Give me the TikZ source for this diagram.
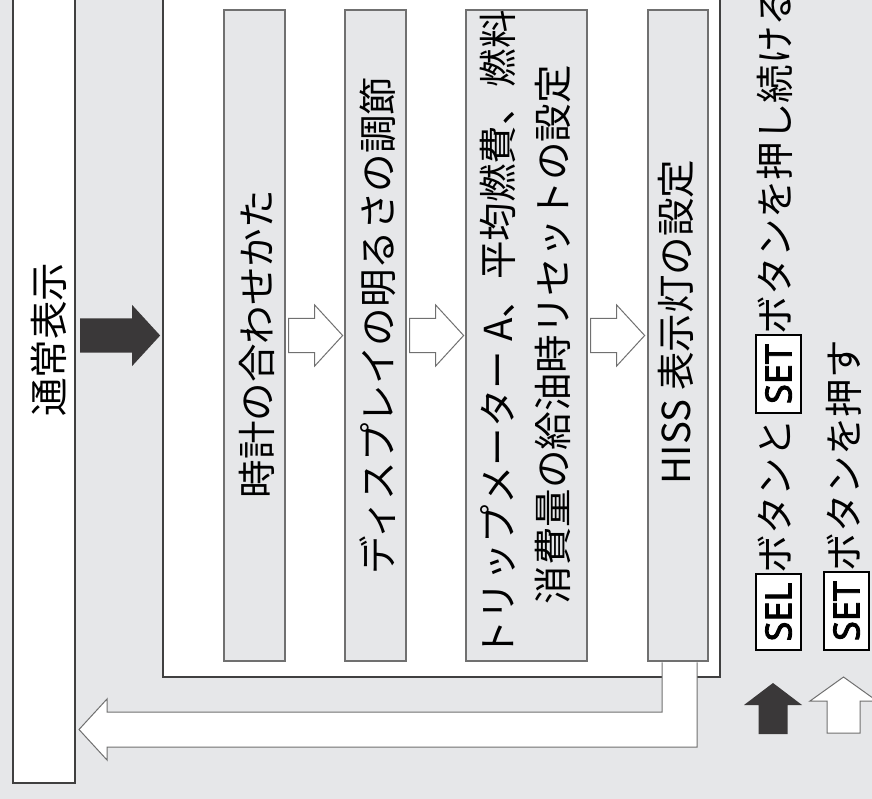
\documentclass[tikz,border=0pt]{standalone}
\usepackage{fontspec}
\setmainfont{Noto Sans CJK JP}
\newfontfamily\btnfont{Noto Sans}[AutoFakeBold=2.5]
\usetikzlibrary{calc}
\definecolor{bggray}{RGB}{230,231,233}
\definecolor{edgedark}{RGB}{64,64,64}
\definecolor{edgegray}{RGB}{112,112,112}
\definecolor{arrowdark}{RGB}{58,56,57}
\tikzset{
  outerbox/.style={draw=edgedark,line width=2.3pt,fill=white,inner sep=0pt},
  stepbox/.style={draw=edgegray,line width=1.3pt,fill=bggray,inner sep=0pt,minimum height=651pt},
  labeltext/.style={rotate=90,inner sep=0pt,font=\fontsize{38.5}{55}\selectfont},
  keybox/.style={rotate=90,draw=black,fill=white,line width=1.3pt,inner sep=0pt,
    minimum width=77pt,minimum height=45pt,font=\btnfont\bfseries\fontsize{36}{36}\selectfont},
  whitearrow/.style={draw=edgegray,line width=1pt,fill=white},
  darkarrow/.style={fill=arrowdark},
  block length/.store in=\blocklen, block length=54,
  rblock/.pic={\path[pic actions] (0,-17) -- (\blocklen-28,-17) -- (\blocklen-28,-30.5)
     -- (\blocklen,0) -- (\blocklen-28,30.5) -- (\blocklen-28,17) -- (0,17) -- cycle;}
}
\begin{document}
\begin{tikzpicture}[x=1pt,y=-1pt]
  \fill[bggray] (0,0) rectangle (872,799);
  \useasboundingbox (0,0) rectangle (872,799);
  % left and main frames
  \node[outerbox,minimum width=62pt,minimum height=790pt] (normal) at (44,388) {};
  \node[outerbox,minimum width=557pt,minimum height=684pt] (menu) at (441.5,335) {};
  % setting steps
  \node[stepbox,minimum width=61pt] (t1) at (254.5,335.5) {};
  \node[stepbox,minimum width=61pt] (t2) at (375.5,335.5) {};
  \node[stepbox,minimum width=121pt] (t3) at (526.5,335.5) {};
  \node[stepbox,minimum width=60pt] (t4) at (678,335.5) {};
  \node[labeltext] (normaltxt) at (48.5,339.5) {通常表示};
  \node[labeltext] (t1txt) at (257,344) {時計の合わせかた};
  \node[labeltext] (t2txt) at (378,325.5) {ディスプレイの明るさの調節};
  \node[labeltext,align=center] (t3txt) at (525,334.5) {トリップメーター A、平均燃費、燃料\\消費量の給油時リセットの設定};
  \node[labeltext] (t4txt) at (676,322) {HISS 表示灯の設定};
  % arrows
  \pic[darkarrow,block length=80] at ($(normal.east |- t1.center)+(4,0)$) {rblock};
  \foreach \a/\b in {t1/t2,t2/t3,t3/t4}
    \pic[whitearrow] at ($(\a.east)+(3,0)$) {rblock};
  \coordinate (rettip) at (79,729.5);
  \draw[whitearrow] ($(t4.south)+(-16,0.6)$) |- ($(rettip)+(28,-17.5)$) -- ++(0,-13)
    -- (rettip) -- ++(28,30.5) -- ++(0,-13) -| ($(t4.south)+(19,0.6)$);
  % legend
  \coordinate (keysel) at (773,683);
  \coordinate (keyset) at (843.5,677);
  \fill[arrowdark] (keysel) -- ++(29,22) -- ++(-14.5,0) -- ++(0,29) -- ++(-29,0)
    -- ++(0,-29) -- ++(-14.5,0) -- cycle;
  \draw[whitearrow] (keyset) -- ++(33.5,24) -- ++(-17,0) -- ++(0,32) -- ++(-33,0)
    -- ++(0,-32) -- ++(-17,0) -- cycle;
  \node[keybox,minimum width=76pt] (selkey) at (778.5,612) {SEL};
  \node[labeltext,anchor=base west] (legsel1) at ($(selkey.east)+(11,0)$) {ボタンと};
  \node[keybox,minimum width=78pt] (setkey1) at (778.5,374) {SET};
  \node[labeltext,anchor=base west] (legsel2) at ($(setkey1.east)+(11,0)$) {ボタンを押し続ける};
  \node[keybox,minimum width=78pt] (setkey2) at (846.5,611) {SET};
  \node[labeltext,anchor=base west] (legset) at ($(setkey2.east)+(12,0)$) {ボタンを押す};
\end{tikzpicture}
\end{document}
